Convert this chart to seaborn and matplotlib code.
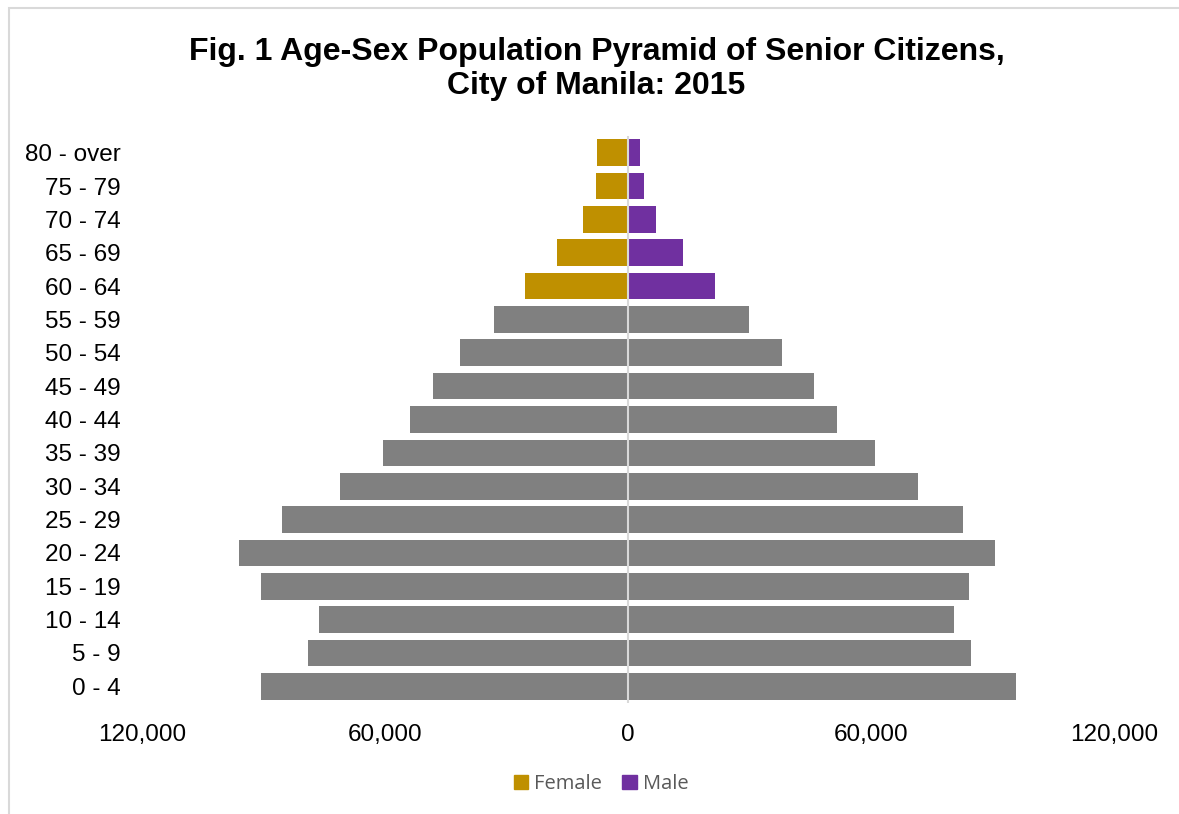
import pandas as pd
import matplotlib.pyplot as plt
import seaborn as sns
from matplotlib.patches import Patch, Rectangle
from matplotlib.ticker import FuncFormatter

# age groups, top to bottom
age_groups = ["80 - over", "75 - 79", "70 - 74", "65 - 69", "60 - 64", "55 - 59",
              "50 - 54", "45 - 49", "40 - 44", "35 - 39", "30 - 34", "25 - 29",
              "20 - 24", "15 - 19", "10 - 14", "5 - 9", "0 - 4"]
female = [7700, 7800, 11100, 17500, 25400, 33100, 41400, 48100, 53700, 60400,
          71000, 85300, 96100, 90500, 76400, 79100, 90500]
male = [3000, 3900, 6900, 13600, 21500, 29800, 37900, 45800, 51700, 60900,
        71500, 82800, 90500, 84100, 80400, 84800, 95700]
senior_groups = ["80 - over", "75 - 79", "70 - 74", "65 - 69", "60 - 64"]

rows = []
for a, f, m in zip(age_groups, female, male):
    senior = a in senior_groups
    rows.append({"age": a, "pop": -f, "grp": "Female" if senior else "F_other"})
    rows.append({"age": a, "pop": m, "grp": "Male" if senior else "M_other"})
df = pd.DataFrame(rows)

colors = {"Female": "#BF9000", "Male": "#7030A0", "F_other": "#808080", "M_other": "#808080"}

sns.set_style("white")
plt.rcParams["font.family"] = ["Liberation Sans", "DejaVu Sans"]

fig = plt.figure(figsize=(11.79, 8.14), dpi=100)
ax = fig.add_axes([0.1204, 0.1364, 0.8245, 0.6965])

sns.barplot(data=df, x="pop", y="age", hue="grp", order=age_groups, palette=colors,
            dodge=False, width=0.8, orient="h", legend=False, ax=ax, linewidth=0,
            saturation=1)

# zero line
ax.axvline(0, color="#D9D9D9", lw=1.5, zorder=5)
ax.set_xlim(-120000, 120000)
ax.set_ylim(16.5, -0.5)
ax.set_xticks([-120000, -60000, 0, 60000, 120000])
ax.xaxis.set_major_formatter(FuncFormatter(lambda v, p: f"{abs(int(v)):,}"))
ax.tick_params(axis="x", length=0, pad=15, labelsize=17.5, labelcolor="black")
ax.tick_params(axis="y", length=0, pad=15, labelsize=17.5, labelcolor="black")
ax.set_xlabel("")
ax.set_ylabel("")
for s in ax.spines.values():
    s.set_visible(False)

fig.suptitle("Fig. 1 Age-Sex Population Pyramid of Senior Citizens,\nCity of Manila: 2015",
             fontsize=23, fontweight="bold", color="black", x=0.506, y=0.955, linespacing=1.2)

handles = [Patch(color=colors["Female"], label="Female"), Patch(color=colors["Male"], label="Male")]
fig.legend(handles=handles, loc="center", bbox_to_anchor=(0.51, 0.037), ncol=2, frameon=False,
           prop={"family": "Open Sans", "size": 14.5}, labelcolor="#595959",
           handlelength=0.7, handleheight=0.7, handletextpad=0.3, columnspacing=1.0)

# chart area border (only top and left edges fall inside the image)
fig.patches.append(Rectangle((0.008, -0.05), 1.1, 1.04, transform=fig.transFigure,
                             fill=False, edgecolor="#D9D9D9", lw=1.5))

fig.savefig("out.png", dpi=100)
